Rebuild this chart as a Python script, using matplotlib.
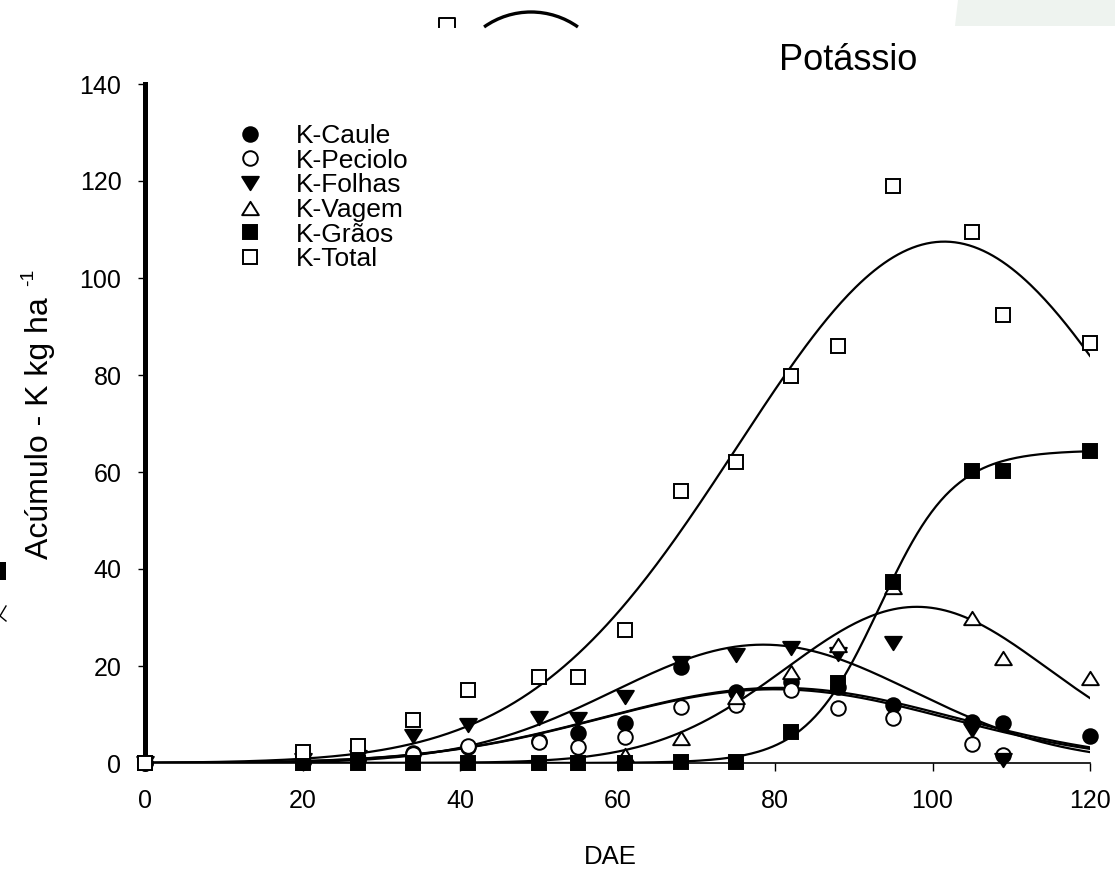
import numpy as np
import matplotlib
matplotlib.use("Agg")
import matplotlib.pyplot as plt
from matplotlib.path import Path
from matplotlib.lines import Line2D
from matplotlib.patches import Arc, Polygon, Rectangle

plt.rcParams['font.family'] = ['Liberation Sans', 'DejaVu Sans']

# Sampling days (DAE) and potassium accumulation (kg ha-1) per plant part
dae_caule = [0, 20, 27, 34, 41, 50, 55, 61, 68, 75, 82, 88, 95, 105, 109, 120]
k_caule = [0, 0.3, 0.8, 2.0, 3.2, 4.6, 6.2, 8.3, 19.8, 14.6, 16.7, 15.6, 12.0, 8.5, 8.2, 5.6]

dae_peciolo = [0, 20, 27, 34, 41, 50, 55, 61, 68, 75, 82, 88, 95, 105, 109]
k_peciolo = [0, 0.2, 0.6, 1.8, 3.6, 4.3, 3.3, 5.4, 11.5, 12.0, 15.0, 11.3, 9.3, 3.9, 1.6]

dae_folhas = [0, 20, 27, 34, 41, 50, 55, 61, 68, 75, 82, 88, 95, 105, 109]
k_folhas = [0, 0.6, 1.2, 5.6, 7.8, 9.3, 9.0, 13.6, 20.6, 22.3, 23.7, 22.5, 24.7, 6.8, 0.6]

dae_vagem = [61, 68, 75, 82, 88, 95, 105, 109, 120]
k_vagem = [1.6, 5.1, 13.6, 18.8, 24.3, 36.3, 30.0, 21.6, 17.5]

dae_graos = [0, 20, 27, 34, 41, 50, 55, 61, 68, 75, 82, 88, 95, 105, 109, 120]
k_graos = [0, 0, 0, 0, 0, 0, 0, 0, 0.3, 0.2, 6.3, 16.5, 37.3, 60.3, 60.3, 64.3]

dae_total = [0, 20, 27, 34, 41, 50, 55, 61, 68, 75, 82, 88, 95, 105, 109, 120]
k_total = [0, 2.3, 3.5, 8.8, 15.0, 17.7, 17.7, 27.5, 56.0, 62.0, 79.7, 86.0, 119.0, 109.5, 92.3, 86.5]

# Fitted regression parameters: Gaussian (a, x0, b) and sigmoid (a, x0, b)
fit_caule = (15.5, 80.5, 22.3)
fit_peciolo = (15.2, 80.0, 22.0)
fit_folhas = (24.4, 78.5, 19.0)
fit_vagem = (32.2, 98.0, 16.6)
fit_graos = (64.5, 93.3, 4.7)
fit_total = (107.5, 101.5, 26.3)

labels = ['K-Caule', 'K-Peciolo', 'K-Folhas', 'K-Vagem', 'K-Grãos', 'K-Total']
x_ticks = [0, 20, 40, 60, 80, 100, 120]
y_ticks = [0, 20, 40, 60, 80, 100, 120, 140]


def gaussian(x, a, x0, b):
    return a * np.exp(-0.5 * ((x - x0) / b) ** 2)


def sigmoid(x, a, x0, b):
    return a / (1.0 + np.exp(-(x - x0) / b))


W, H = 1115, 872
fig = plt.figure(figsize=(W / 100, H / 100), dpi=100)
ax = fig.add_axes([145 / W, 1 - 763 / H, 945 / W, 679 / H])

xs = np.linspace(0, 120, 400)
curve_kw = dict(color='black', lw=1.6, zorder=2)
ax.plot(xs, gaussian(xs, *fit_total), **curve_kw)
ax.plot(xs, gaussian(xs, *fit_caule), **curve_kw)
ax.plot(xs, gaussian(xs, *fit_peciolo), **curve_kw)
ax.plot(xs, gaussian(xs, *fit_folhas), **curve_kw)
ax.plot(xs, gaussian(xs, *fit_vagem), **curve_kw)
ax.plot(xs, sigmoid(xs, *fit_graos), **curve_kw)

tri_down = Path([(-1.0, 0.8), (1.0, 0.8), (0.0, -0.8), (-1.0, 0.8)],
                [Path.MOVETO, Path.LINETO, Path.LINETO, Path.CLOSEPOLY])
tri_up = Path([(-1.0, -0.8), (1.0, -0.8), (0.0, 0.8), (-1.0, -0.8)],
              [Path.MOVETO, Path.LINETO, Path.LINETO, Path.CLOSEPOLY])

ms = 10.5
mew = 1.4
series = [
    (dae_caule, k_caule, dict(marker='o', ms=ms, mfc='black', mec='black', mew=mew)),
    (dae_peciolo, k_peciolo, dict(marker='o', ms=ms, mfc='white', mec='black', mew=mew)),
    (dae_folhas, k_folhas, dict(marker=tri_down, ms=12, mfc='black', mec='black', mew=mew)),
    (dae_vagem, k_vagem, dict(marker=tri_up, ms=12, mfc='white', mec='black', mew=mew)),
    (dae_graos, k_graos, dict(marker='s', ms=ms, mfc='black', mec='black', mew=mew)),
    (dae_total, k_total, dict(marker='s', ms=ms, mfc='white', mec='black', mew=mew)),
]
handles = []
for (xv, yv, kw), lab in zip(series, labels):
    h, = ax.plot(xv, yv, ls='none', clip_on=False, zorder=3, label=lab, **kw)
    handles.append(h)

ax.set_xlim(0, 120)
ax.set_ylim(0, 140)
ax.set_xticks(x_ticks)
ax.set_yticks(y_ticks)
ax.spines['top'].set_visible(False)
ax.spines['right'].set_visible(False)
ax.spines['left'].set_linewidth(3.6)
ax.spines['bottom'].set_linewidth(1.2)
ax.tick_params(axis='y', direction='out', length=5, width=1.0, pad=12, labelsize=18)
ax.tick_params(axis='x', direction='out', length=6, width=1.0, pad=13, labelsize=18)

fig.text(610 / W, 1 - 857 / H, 'DAE', fontsize=18.5, ha='center', va='center')
fig.text(40 / W, 1 - 428 / H, 'Acúmulo - K kg ha', rotation=90, fontsize=23,
         ha='center', va='center')
fig.text(29 / W, 1 - 277 / H, '-1', rotation=90, fontsize=14, ha='center', va='center')

fig.text(848 / W, 1 - 61 / H, 'Potássio', fontsize=26, ha='center', va='center')

ax.legend(handles=handles, loc='upper left', bbox_to_anchor=(237 / W, 1 - 124 / H),
          bbox_transform=fig.transFigure, frameon=False, fontsize=19,
          handlelength=1.0, handletextpad=1.25, labelspacing=0.025, borderpad=0,
          borderaxespad=0)

# Fragments of neighbouring panels along the top and left edges
fig.patches.append(Polygon([[958, H], [W, H], [W, H - 26], [955, H - 26]], closed=True,
                           transform=None, facecolor='#eef3ef', edgecolor='none'))
fig.patches.append(Arc((531, H - 93), 162, 162, theta1=54.6, theta2=125.4,
                       transform=None, color='black', lw=2.4))
fig.lines.append(Line2D([439, 439, 455, 455], [H - 27, H - 18, H - 18, H - 27],
                        transform=None, color='black', lw=1.4))
fig.patches.append(Rectangle((0, H - 580), 6, 18, transform=None,
                             facecolor='black', edgecolor='none'))
fig.lines.append(Line2D([6, 0, 6], [H - 606, H - 616, H - 621],
                        transform=None, color='black', lw=1.0))

fig.savefig('out.png', dpi=100)
